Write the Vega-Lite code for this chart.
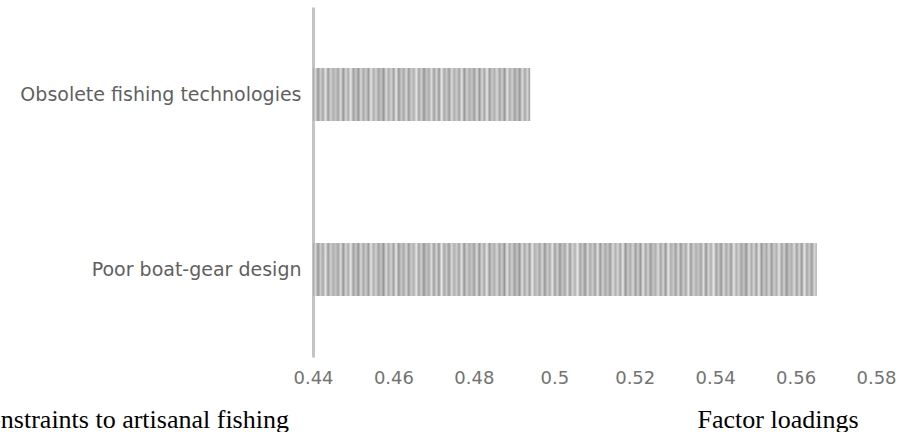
{
  "$schema": "https://vega.github.io/schema/vega-lite/v6.json",
  "width": 563,
  "height": 350,
  "autosize": {"type": "none"},
  "padding": {"left": 313, "top": 7, "right": 26, "bottom": 75},
  "background": "white",
  "config": {"view": {"stroke": null}},
  "data": {
    "values": [
      {"factor": "Obsolete fishing technologies", "loading": 0.494},
      {"factor": "Poor boat-gear design", "loading": 0.5653}
    ]
  },
  "encoding": {
    "y": {
      "field": "factor",
      "type": "nominal",
      "sort": ["Obsolete fishing technologies", "Poor boat-gear design"],
      "scale": {"paddingInner": 0, "paddingOuter": 0},
      "axis": {
        "title": "Constraints to artisanal fishing",
        "titleAngle": 0,
        "titleAlign": "left",
        "titleBaseline": "alphabetic",
        "titleX": -343,
        "titleY": 420,
        "titleFont": "Liberation Serif",
        "titleFontSize": 26,
        "titleFontWeight": "normal",
        "titleColor": "#000000",
        "domain": true,
        "domainColor": "#c4c4c4",
        "domainWidth": 3,
        "ticks": false,
        "grid": false,
        "labelFont": "DejaVu Sans",
        "labelFontSize": 19,
        "labelColor": "#5f5f5f",
        "labelPadding": 12,
        "labelLimit": 400
      }
    },
    "x": {
      "field": "loading",
      "type": "quantitative",
      "scale": {"domain": [0.44, 0.58], "nice": false, "zero": false},
      "axis": {
        "title": "Factor loadings",
        "titleAlign": "left",
        "titleBaseline": "alphabetic",
        "titleAnchor": "start",
        "titleX": 384,
        "titleY": 70,
        "titleFont": "Liberation Serif",
        "titleFontSize": 26,
        "titleFontWeight": "normal",
        "titleColor": "#000000",
        "values": [0.44, 0.46, 0.48, 0.5, 0.52, 0.54, 0.56, 0.58],
        "format": ".2~f",
        "domain": false,
        "ticks": false,
        "grid": false,
        "labelFont": "DejaVu Sans",
        "labelFontSize": 18,
        "labelColor": "#737373",
        "labelPadding": 12,
        "labelFlush": false
      }
    },
    "x2": {"datum": 0.44}
  },
  "layer": [
    {
      "transform": [{"filter": "datum.factor === 'Poor boat-gear design'"}],
      "mark": {
        "type": "bar",
        "height": 53,
        "fill": {
          "gradient": "linear", "x1": 0, "y1": 0, "x2": 1, "y2": 0,
          "stops": [
            {"offset": 0.000, "color": "#a0a0a0"}, {"offset": 0.005, "color": "#d8d8d8"},
            {"offset": 0.010, "color": "#989898"}, {"offset": 0.015, "color": "#cccccc"},
            {"offset": 0.020, "color": "#a8a8a8"}, {"offset": 0.025, "color": "#e4e4e4"},
            {"offset": 0.030, "color": "#9c9c9c"}, {"offset": 0.035, "color": "#d0d0d0"},
            {"offset": 0.040, "color": "#b0b0b0"}, {"offset": 0.045, "color": "#c4c4c4"},
            {"offset": 0.050, "color": "#a4a4a4"}, {"offset": 0.055, "color": "#dcdcdc"},
            {"offset": 0.060, "color": "#969696"}, {"offset": 0.065, "color": "#d4d4d4"},
            {"offset": 0.070, "color": "#acacac"}, {"offset": 0.075, "color": "#e8e8e8"},
            {"offset": 0.080, "color": "#a0a0a0"}, {"offset": 0.085, "color": "#c8c8c8"},
            {"offset": 0.090, "color": "#989898"}, {"offset": 0.095, "color": "#d8d8d8"},
            {"offset": 0.100, "color": "#a8a8a8"}, {"offset": 0.105, "color": "#cccccc"},
            {"offset": 0.110, "color": "#9c9c9c"}, {"offset": 0.115, "color": "#e4e4e4"},
            {"offset": 0.120, "color": "#b0b0b0"}, {"offset": 0.125, "color": "#d0d0d0"},
            {"offset": 0.130, "color": "#a4a4a4"}, {"offset": 0.135, "color": "#c4c4c4"},
            {"offset": 0.140, "color": "#969696"}, {"offset": 0.145, "color": "#dcdcdc"},
            {"offset": 0.150, "color": "#acacac"}, {"offset": 0.155, "color": "#d4d4d4"},
            {"offset": 0.160, "color": "#a0a0a0"}, {"offset": 0.165, "color": "#e8e8e8"},
            {"offset": 0.170, "color": "#989898"}, {"offset": 0.175, "color": "#c8c8c8"},
            {"offset": 0.180, "color": "#a8a8a8"}, {"offset": 0.185, "color": "#d8d8d8"},
            {"offset": 0.190, "color": "#9c9c9c"}, {"offset": 0.195, "color": "#cccccc"},
            {"offset": 0.200, "color": "#b0b0b0"}, {"offset": 0.205, "color": "#e4e4e4"},
            {"offset": 0.210, "color": "#a4a4a4"}, {"offset": 0.215, "color": "#d0d0d0"},
            {"offset": 0.220, "color": "#969696"}, {"offset": 0.225, "color": "#c4c4c4"},
            {"offset": 0.230, "color": "#acacac"}, {"offset": 0.235, "color": "#dcdcdc"},
            {"offset": 0.240, "color": "#a0a0a0"}, {"offset": 0.245, "color": "#d4d4d4"},
            {"offset": 0.250, "color": "#989898"}, {"offset": 0.255, "color": "#e8e8e8"},
            {"offset": 0.260, "color": "#a8a8a8"}, {"offset": 0.265, "color": "#c8c8c8"},
            {"offset": 0.270, "color": "#9c9c9c"}, {"offset": 0.275, "color": "#d8d8d8"},
            {"offset": 0.280, "color": "#b0b0b0"}, {"offset": 0.285, "color": "#cccccc"},
            {"offset": 0.290, "color": "#a4a4a4"}, {"offset": 0.295, "color": "#e4e4e4"},
            {"offset": 0.300, "color": "#969696"}, {"offset": 0.305, "color": "#d0d0d0"},
            {"offset": 0.310, "color": "#acacac"}, {"offset": 0.315, "color": "#c4c4c4"},
            {"offset": 0.320, "color": "#a0a0a0"}, {"offset": 0.325, "color": "#dcdcdc"},
            {"offset": 0.330, "color": "#989898"}, {"offset": 0.335, "color": "#d4d4d4"},
            {"offset": 0.340, "color": "#a8a8a8"}, {"offset": 0.345, "color": "#e8e8e8"},
            {"offset": 0.350, "color": "#9c9c9c"}, {"offset": 0.355, "color": "#c8c8c8"},
            {"offset": 0.360, "color": "#b0b0b0"}, {"offset": 0.365, "color": "#d8d8d8"},
            {"offset": 0.370, "color": "#a4a4a4"}, {"offset": 0.375, "color": "#cccccc"},
            {"offset": 0.380, "color": "#969696"}, {"offset": 0.385, "color": "#e4e4e4"},
            {"offset": 0.390, "color": "#acacac"}, {"offset": 0.395, "color": "#d0d0d0"},
            {"offset": 0.400, "color": "#a0a0a0"}, {"offset": 0.405, "color": "#c4c4c4"},
            {"offset": 0.410, "color": "#989898"}, {"offset": 0.415, "color": "#dcdcdc"},
            {"offset": 0.420, "color": "#a8a8a8"}, {"offset": 0.425, "color": "#d4d4d4"},
            {"offset": 0.430, "color": "#9c9c9c"}, {"offset": 0.435, "color": "#e8e8e8"},
            {"offset": 0.440, "color": "#b0b0b0"}, {"offset": 0.445, "color": "#c8c8c8"},
            {"offset": 0.450, "color": "#a4a4a4"}, {"offset": 0.455, "color": "#d8d8d8"},
            {"offset": 0.460, "color": "#969696"}, {"offset": 0.465, "color": "#cccccc"},
            {"offset": 0.470, "color": "#acacac"}, {"offset": 0.475, "color": "#e4e4e4"},
            {"offset": 0.480, "color": "#a0a0a0"}, {"offset": 0.485, "color": "#d0d0d0"},
            {"offset": 0.490, "color": "#989898"}, {"offset": 0.495, "color": "#c4c4c4"},
            {"offset": 0.500, "color": "#a8a8a8"}, {"offset": 0.505, "color": "#dcdcdc"},
            {"offset": 0.510, "color": "#9c9c9c"}, {"offset": 0.515, "color": "#d4d4d4"},
            {"offset": 0.520, "color": "#b0b0b0"}, {"offset": 0.525, "color": "#e8e8e8"},
            {"offset": 0.530, "color": "#a4a4a4"}, {"offset": 0.535, "color": "#c8c8c8"},
            {"offset": 0.540, "color": "#969696"}, {"offset": 0.545, "color": "#d8d8d8"},
            {"offset": 0.550, "color": "#acacac"}, {"offset": 0.555, "color": "#cccccc"},
            {"offset": 0.560, "color": "#a0a0a0"}, {"offset": 0.565, "color": "#e4e4e4"},
            {"offset": 0.570, "color": "#989898"}, {"offset": 0.575, "color": "#d0d0d0"},
            {"offset": 0.580, "color": "#a8a8a8"}, {"offset": 0.585, "color": "#c4c4c4"},
            {"offset": 0.590, "color": "#9c9c9c"}, {"offset": 0.595, "color": "#dcdcdc"},
            {"offset": 0.600, "color": "#b0b0b0"}, {"offset": 0.605, "color": "#d4d4d4"},
            {"offset": 0.610, "color": "#a4a4a4"}, {"offset": 0.615, "color": "#e8e8e8"},
            {"offset": 0.620, "color": "#969696"}, {"offset": 0.625, "color": "#c8c8c8"},
            {"offset": 0.630, "color": "#acacac"}, {"offset": 0.635, "color": "#d8d8d8"},
            {"offset": 0.640, "color": "#a0a0a0"}, {"offset": 0.645, "color": "#cccccc"},
            {"offset": 0.650, "color": "#989898"}, {"offset": 0.655, "color": "#e4e4e4"},
            {"offset": 0.660, "color": "#a8a8a8"}, {"offset": 0.665, "color": "#d0d0d0"},
            {"offset": 0.670, "color": "#9c9c9c"}, {"offset": 0.675, "color": "#c4c4c4"},
            {"offset": 0.680, "color": "#b0b0b0"}, {"offset": 0.685, "color": "#dcdcdc"},
            {"offset": 0.690, "color": "#a4a4a4"}, {"offset": 0.695, "color": "#d4d4d4"},
            {"offset": 0.700, "color": "#969696"}, {"offset": 0.705, "color": "#e8e8e8"},
            {"offset": 0.710, "color": "#acacac"}, {"offset": 0.715, "color": "#c8c8c8"},
            {"offset": 0.720, "color": "#a0a0a0"}, {"offset": 0.725, "color": "#d8d8d8"},
            {"offset": 0.730, "color": "#989898"}, {"offset": 0.735, "color": "#cccccc"},
            {"offset": 0.740, "color": "#a8a8a8"}, {"offset": 0.745, "color": "#e4e4e4"},
            {"offset": 0.750, "color": "#9c9c9c"}, {"offset": 0.755, "color": "#d0d0d0"},
            {"offset": 0.760, "color": "#b0b0b0"}, {"offset": 0.765, "color": "#c4c4c4"},
            {"offset": 0.770, "color": "#a4a4a4"}, {"offset": 0.775, "color": "#dcdcdc"},
            {"offset": 0.780, "color": "#969696"}, {"offset": 0.785, "color": "#d4d4d4"},
            {"offset": 0.790, "color": "#acacac"}, {"offset": 0.795, "color": "#e8e8e8"},
            {"offset": 0.800, "color": "#a0a0a0"}, {"offset": 0.805, "color": "#c8c8c8"},
            {"offset": 0.810, "color": "#989898"}, {"offset": 0.815, "color": "#d8d8d8"},
            {"offset": 0.820, "color": "#a8a8a8"}, {"offset": 0.825, "color": "#cccccc"},
            {"offset": 0.830, "color": "#9c9c9c"}, {"offset": 0.835, "color": "#e4e4e4"},
            {"offset": 0.840, "color": "#b0b0b0"}, {"offset": 0.845, "color": "#d0d0d0"},
            {"offset": 0.850, "color": "#a4a4a4"}, {"offset": 0.855, "color": "#c4c4c4"},
            {"offset": 0.860, "color": "#969696"}, {"offset": 0.865, "color": "#dcdcdc"},
            {"offset": 0.870, "color": "#acacac"}, {"offset": 0.875, "color": "#d4d4d4"},
            {"offset": 0.880, "color": "#a0a0a0"}, {"offset": 0.885, "color": "#e8e8e8"},
            {"offset": 0.890, "color": "#989898"}, {"offset": 0.895, "color": "#c8c8c8"},
            {"offset": 0.900, "color": "#a8a8a8"}, {"offset": 0.905, "color": "#d8d8d8"},
            {"offset": 0.910, "color": "#9c9c9c"}, {"offset": 0.915, "color": "#cccccc"},
            {"offset": 0.920, "color": "#b0b0b0"}, {"offset": 0.925, "color": "#e4e4e4"},
            {"offset": 0.930, "color": "#a4a4a4"}, {"offset": 0.935, "color": "#d0d0d0"},
            {"offset": 0.940, "color": "#969696"}, {"offset": 0.945, "color": "#c4c4c4"},
            {"offset": 0.950, "color": "#acacac"}, {"offset": 0.955, "color": "#dcdcdc"},
            {"offset": 0.960, "color": "#a0a0a0"}, {"offset": 0.965, "color": "#d4d4d4"},
            {"offset": 0.970, "color": "#989898"}, {"offset": 0.975, "color": "#e8e8e8"},
            {"offset": 0.980, "color": "#a8a8a8"}, {"offset": 0.985, "color": "#c8c8c8"},
            {"offset": 0.990, "color": "#9c9c9c"}, {"offset": 0.995, "color": "#d8d8d8"},
            {"offset": 1.000, "color": "#b0b0b0"}
          ]
        }
      }
    },
    {
      "transform": [{"filter": "datum.factor === 'Obsolete fishing technologies'"}],
      "mark": {
        "type": "bar",
        "height": 53,
        "fill": {
          "gradient": "linear", "x1": 0, "y1": 0, "x2": 2.3226, "y2": 0,
          "stops": [
            {"offset": 0.000, "color": "#a0a0a0"}, {"offset": 0.005, "color": "#d8d8d8"},
            {"offset": 0.010, "color": "#989898"}, {"offset": 0.015, "color": "#cccccc"},
            {"offset": 0.020, "color": "#a8a8a8"}, {"offset": 0.025, "color": "#e4e4e4"},
            {"offset": 0.030, "color": "#9c9c9c"}, {"offset": 0.035, "color": "#d0d0d0"},
            {"offset": 0.040, "color": "#b0b0b0"}, {"offset": 0.045, "color": "#c4c4c4"},
            {"offset": 0.050, "color": "#a4a4a4"}, {"offset": 0.055, "color": "#dcdcdc"},
            {"offset": 0.060, "color": "#969696"}, {"offset": 0.065, "color": "#d4d4d4"},
            {"offset": 0.070, "color": "#acacac"}, {"offset": 0.075, "color": "#e8e8e8"},
            {"offset": 0.080, "color": "#a0a0a0"}, {"offset": 0.085, "color": "#c8c8c8"},
            {"offset": 0.090, "color": "#989898"}, {"offset": 0.095, "color": "#d8d8d8"},
            {"offset": 0.100, "color": "#a8a8a8"}, {"offset": 0.105, "color": "#cccccc"},
            {"offset": 0.110, "color": "#9c9c9c"}, {"offset": 0.115, "color": "#e4e4e4"},
            {"offset": 0.120, "color": "#b0b0b0"}, {"offset": 0.125, "color": "#d0d0d0"},
            {"offset": 0.130, "color": "#a4a4a4"}, {"offset": 0.135, "color": "#c4c4c4"},
            {"offset": 0.140, "color": "#969696"}, {"offset": 0.145, "color": "#dcdcdc"},
            {"offset": 0.150, "color": "#acacac"}, {"offset": 0.155, "color": "#d4d4d4"},
            {"offset": 0.160, "color": "#a0a0a0"}, {"offset": 0.165, "color": "#e8e8e8"},
            {"offset": 0.170, "color": "#989898"}, {"offset": 0.175, "color": "#c8c8c8"},
            {"offset": 0.180, "color": "#a8a8a8"}, {"offset": 0.185, "color": "#d8d8d8"},
            {"offset": 0.190, "color": "#9c9c9c"}, {"offset": 0.195, "color": "#cccccc"},
            {"offset": 0.200, "color": "#b0b0b0"}, {"offset": 0.205, "color": "#e4e4e4"},
            {"offset": 0.210, "color": "#a4a4a4"}, {"offset": 0.215, "color": "#d0d0d0"},
            {"offset": 0.220, "color": "#969696"}, {"offset": 0.225, "color": "#c4c4c4"},
            {"offset": 0.230, "color": "#acacac"}, {"offset": 0.235, "color": "#dcdcdc"},
            {"offset": 0.240, "color": "#a0a0a0"}, {"offset": 0.245, "color": "#d4d4d4"},
            {"offset": 0.250, "color": "#989898"}, {"offset": 0.255, "color": "#e8e8e8"},
            {"offset": 0.260, "color": "#a8a8a8"}, {"offset": 0.265, "color": "#c8c8c8"},
            {"offset": 0.270, "color": "#9c9c9c"}, {"offset": 0.275, "color": "#d8d8d8"},
            {"offset": 0.280, "color": "#b0b0b0"}, {"offset": 0.285, "color": "#cccccc"},
            {"offset": 0.290, "color": "#a4a4a4"}, {"offset": 0.295, "color": "#e4e4e4"},
            {"offset": 0.300, "color": "#969696"}, {"offset": 0.305, "color": "#d0d0d0"},
            {"offset": 0.310, "color": "#acacac"}, {"offset": 0.315, "color": "#c4c4c4"},
            {"offset": 0.320, "color": "#a0a0a0"}, {"offset": 0.325, "color": "#dcdcdc"},
            {"offset": 0.330, "color": "#989898"}, {"offset": 0.335, "color": "#d4d4d4"},
            {"offset": 0.340, "color": "#a8a8a8"}, {"offset": 0.345, "color": "#e8e8e8"},
            {"offset": 0.350, "color": "#9c9c9c"}, {"offset": 0.355, "color": "#c8c8c8"},
            {"offset": 0.360, "color": "#b0b0b0"}, {"offset": 0.365, "color": "#d8d8d8"},
            {"offset": 0.370, "color": "#a4a4a4"}, {"offset": 0.375, "color": "#cccccc"},
            {"offset": 0.380, "color": "#969696"}, {"offset": 0.385, "color": "#e4e4e4"},
            {"offset": 0.390, "color": "#acacac"}, {"offset": 0.395, "color": "#d0d0d0"},
            {"offset": 0.400, "color": "#a0a0a0"}, {"offset": 0.405, "color": "#c4c4c4"},
            {"offset": 0.410, "color": "#989898"}, {"offset": 0.415, "color": "#dcdcdc"},
            {"offset": 0.420, "color": "#a8a8a8"}, {"offset": 0.425, "color": "#d4d4d4"},
            {"offset": 0.430, "color": "#9c9c9c"}, {"offset": 0.435, "color": "#e8e8e8"},
            {"offset": 0.440, "color": "#b0b0b0"}, {"offset": 0.445, "color": "#c8c8c8"},
            {"offset": 0.450, "color": "#a4a4a4"}, {"offset": 1.000, "color": "#a4a4a4"}
          ]
        }
      }
    }
  ]
}
